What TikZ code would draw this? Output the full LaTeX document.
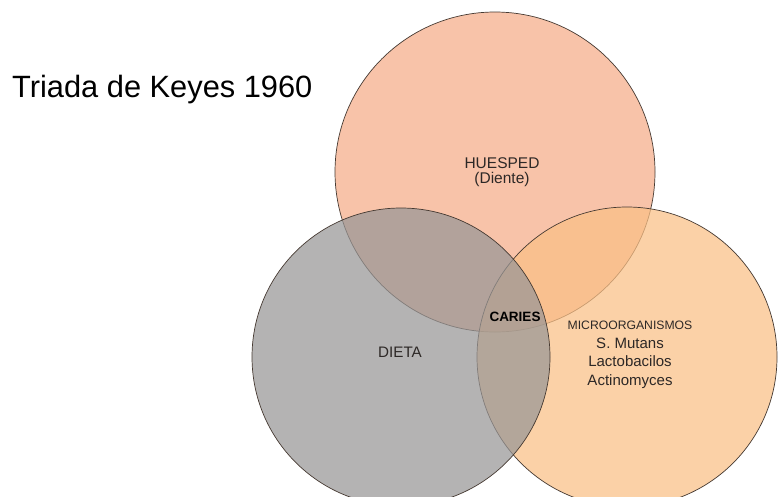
\documentclass[tikz,border=0pt]{standalone}
\usepackage{fontspec}
\setmainfont{Liberation Sans}
\usepackage{xcolor}
\definecolor{huesped}{RGB}{246,172,136}
\definecolor{dieta}{RGB}{152,150,150}
\definecolor{micro}{RGB}{250,192,134}
\definecolor{borde}{RGB}{70,58,50}
\definecolor{texto}{RGB}{45,40,38}

\begin{document}
\begin{tikzpicture}[x=1pt, y=-1pt,
  venn/.style={circle, draw=borde, line width=0.7pt, fill opacity=0.72, inner sep=0pt},
  etiqueta/.style={text=texto, align=center, inner sep=0pt}]
  \useasboundingbox (0,0) rectangle (778,496);
  \clip (0,0) rectangle (778,496);
  \fill[white] (0,0) rectangle (778,496);
  % circulos
  \node[venn, fill=huesped, minimum size=320pt] (H) at (495,172) {};
  \node[venn, fill=micro, minimum size=300pt] (M) at (627,357) {};
  \node[venn, fill=dieta, minimum size=298pt] (D) at (401,357) {};
  % textos
  \node[etiqueta, font=\fontsize{15.5}{15.5}\selectfont] (huespedtxt) at (502,172) {HUESPED\\(Diente)};
  \node[etiqueta, font=\fontsize{15.2}{18}\selectfont] (dietatxt) at (400,352.5) {DIETA};
  \node[etiqueta, font=\fontsize{15}{18.5}\selectfont] (microtxt) at (630,355)
        {{\fontsize{12.2}{14}\selectfont MICROORGANISMOS}\\S. Mutans\\Lactobacilos\\Actinomyces};
  \node[inner sep=0pt, font=\bfseries\fontsize{13.5}{15}\selectfont] (caries) at (515,317) {CARIES};
  \node[anchor=base west, inner sep=0pt, font=\fontsize{30.8}{36}\selectfont] (titulo) at (12,97) {Triada de Keyes 1960};
\end{tikzpicture}
\end{document}
